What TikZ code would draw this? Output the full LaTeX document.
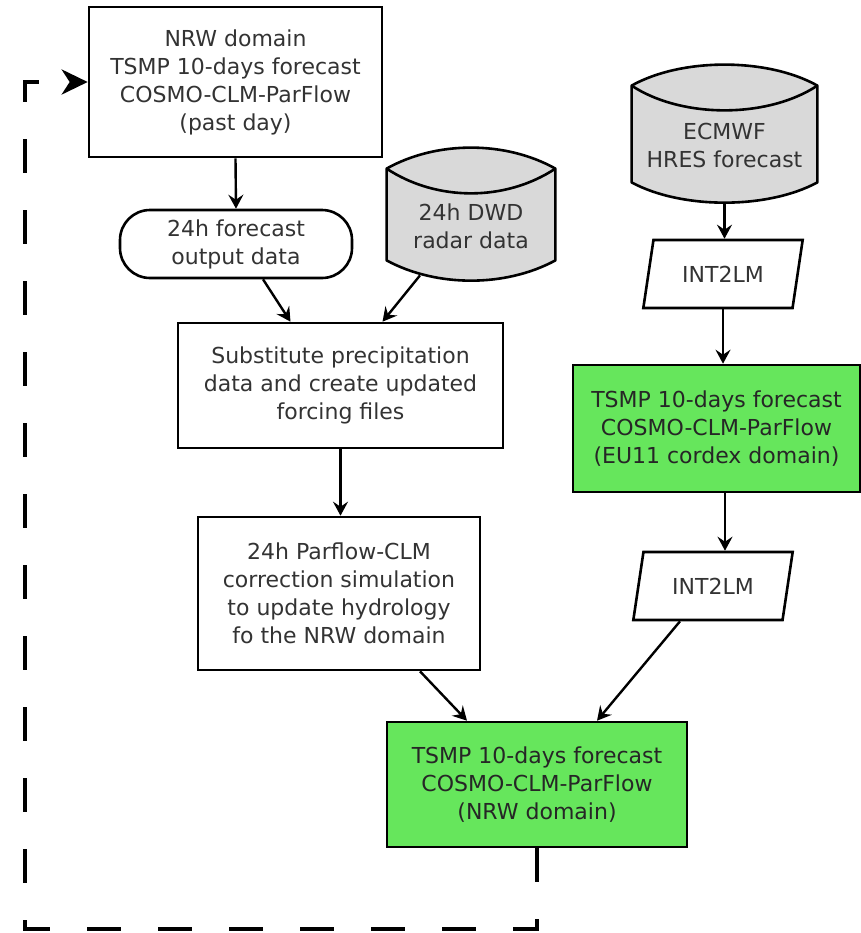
\documentclass[tikz,border=0pt]{standalone}
\usepackage{fontspec}
\setmainfont{DejaVu Sans}
\usetikzlibrary{calc,shapes.geometric,arrows.meta}

\definecolor{fcgreen}{HTML}{66E65C}
\definecolor{fcgray}{HTML}{D9D9D9}
\definecolor{fctext}{HTML}{333333}
\newcommand\fcfont{\fontsize{11pt}{14pt}\selectfont}

\tikzset{
    box/.style={draw, line width=1.3pt, align=center, text=fctext, font=\fcfont, inner sep=0pt},
    greenbox/.style={box, fill=fcgreen, text=black!85},
    term/.style={box, rounded corners=15pt},
    iobox/.style={box, trapezium, trapezium left angle=70, trapezium right angle=110, trapezium stretches=true},
    dbnode/.style={rectangle, inner sep=0pt},
    dbtext/.style={align=center, text=fctext, font=\fcfont, inner sep=0pt},
    dbline/.style={line width=1.3pt, line join=round},
    flow/.style={line width=1.2pt, -{Stealth[length=7pt,width=7.5pt,inset=2.5pt]}},
    loopline/.style={line width=2pt, dash pattern=on 17pt off 18.5pt, -{Stealth[length=13pt,width=12.5pt,inset=4pt]}},
}

% database drum round a named node
\newcommand\database[1]{%
    \draw[dbline, fill=fcgray] ($(#1.north west)+(0,21)$)
        .. controls ($(#1.north west)+(50,-7)$) and ($(#1.north east)+(-50,-7)$) .. ($(#1.north east)+(0,21)$)
        -- ($(#1.south east)+(0,-20)$)
        .. controls ($(#1.south east)+(-50,7)$) and ($(#1.south west)+(50,7)$) .. ($(#1.south west)+(0,-20)$)
        -- cycle;
    \draw[dbline] ($(#1.north west)+(0,21)$)
        .. controls ($(#1.north west)+(50,54)$) and ($(#1.north east)+(-50,54)$) .. ($(#1.north east)+(0,21)$);
}

\begin{document}
\begin{tikzpicture}[x=0.5pt,y=-0.5pt]
    \useasboundingbox (0,0) rectangle (861,933);

    % left branch
    \node[box, minimum width=146.5pt, minimum height=75pt] (past) at (235.5,82)
        {NRW domain\\TSMP 10-days forecast\\COSMO-CLM-ParFlow\\(past day)};
    \node[term, minimum width=116pt, minimum height=34pt] (output) at (236,244)
        {24h forecast\\output data};
    \node[dbnode, minimum width=84pt, minimum height=66pt] (radar) at (471,214) {};
    \database{radar}
    \node[dbtext] (radartext) at ($(radar.center)+(0,12)$) {24h DWD\\radar data};
    \node[box, minimum width=162.5pt, minimum height=62.5pt] (subst) at (340.5,385.5)
        {Substitute precipitation\\data and create updated\\forcing files};
    \node[box, minimum width=141pt, minimum height=76.5pt] (corr) at (339,593.5)
        {24h Parflow-CLM\\correction simulation\\to update hydrology\\fo the NRW domain};
    \node[greenbox, minimum width=150pt, minimum height=62.5pt] (nrw) at (537,784.5)
        {TSMP 10-days forecast\\COSMO-CLM-ParFlow\\(NRW domain)};

    % right branch
    \node[dbnode, minimum width=92.5pt, minimum height=68.5pt] (ecmwf) at (724.5,133.5) {};
    \database{ecmwf}
    \node[dbtext] (ecmwftext) at ($(ecmwf.center)+(0,11.5)$) {ECMWF\\HRES forecast};
    \node[iobox, minimum width=80pt, minimum height=34pt] (intA) at (723,274) {INT2LM};
    \node[greenbox, minimum width=143.5pt, minimum height=63.5pt] (eu) at (716.5,428.5)
        {TSMP 10-days forecast\\COSMO-CLM-ParFlow\\(EU11 cordex domain)};
    \node[iobox, minimum width=80pt, minimum height=34pt] (intB) at (713,586) {INT2LM};

    \coordinate (euout) at ($(eu.south)+(8.5,0)$);
    \coordinate (loopcorner) at (25,929);

    \draw[flow] (past.south) -- (output.north);
    \draw[flow] ($(output.south)+(27,0)$) -- ($(subst.north)+(-50,0)$);
    \draw[flow] ($(radar.south)+(-51,-5)$) -- ($(subst.north)+(42,0)$);
    \draw[flow] (subst.south) -- (subst.south |- corr.north);
    \draw[flow] ($(corr.south)+(81,0)$) -- ($(nrw.north)+(-70,0)$);
    \draw[flow] (ecmwf.south) -- (ecmwf.south |- intA.north);
    \draw[flow] (intA.south) -- (intA.south |- eu.north);
    \draw[flow] (euout) -- (euout |- intB.north);
    \draw[flow] ($(intB.south)+(-33,0)$) -- ($(nrw.north)+(60,0)$);

    % daily restart
    \draw[loopline] (nrw.south) -- (nrw.south |- loopcorner) -- (loopcorner)
        -- (loopcorner |- past.west) -- (past.west);
\end{tikzpicture}
\end{document}
